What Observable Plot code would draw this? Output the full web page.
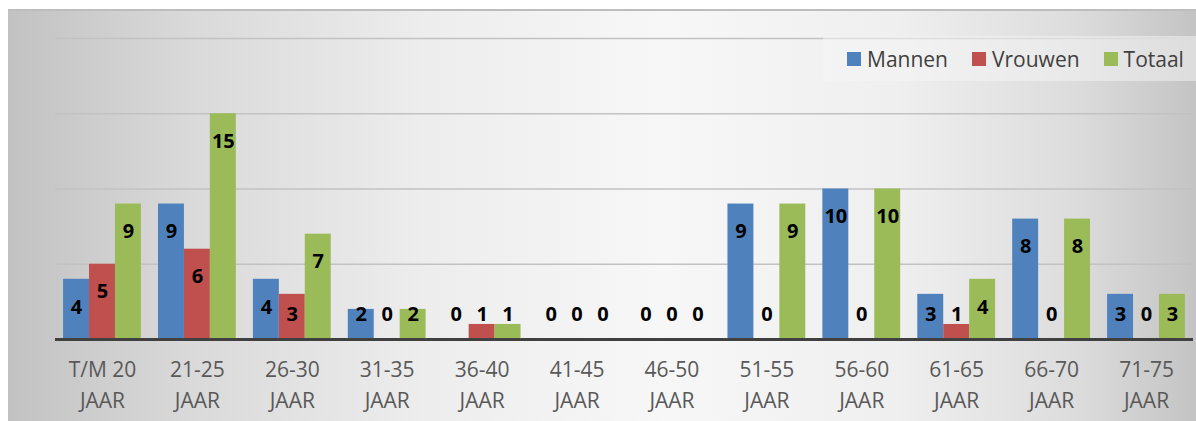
<!DOCTYPE html>
<html><head><meta charset="utf-8">
<script src="https://cdn.jsdelivr.net/npm/d3@7"></script>
<script src="https://cdn.jsdelivr.net/npm/@observablehq/plot@0.6"></script>
<style>
body{margin:0;background:#fff;}
#wrap{position:relative;width:1196px;height:421px;overflow:hidden;background:#fff;font-family:"Open Sans",sans-serif;}
#panel{position:absolute;left:8px;top:9px;right:0;bottom:0;border-top:2px solid #bdbdbd;
 background:linear-gradient(90deg,#c2c2c2 0%,#d9d9d9 15%,#ededed 35%,#f7f7f7 55%,#efefef 75%,#dcdcdc 90%,#c4c4c4 100%);}
#back,#chart{position:absolute;left:0;top:0;}
#legend{position:absolute;left:823px;top:36px;width:373px;height:45px;background:rgba(245,245,245,0.5);
 display:flex;align-items:center;padding-left:24px;box-sizing:border-box;font-size:21px;color:#404040;}
#legend .it{display:flex;align-items:center;margin-right:24px;}
#legend .sw{width:14px;height:14px;margin-right:6px;}
</style></head>
<body>
<div id="wrap"><div id="panel"></div><div id="back"></div><div id="chart"></div><div id="legend"></div></div>
<script>
const categories = ["T/M 20","21-25","26-30","31-35","36-40","41-45","46-50","51-55","56-60","61-65","66-70","71-75"];
const tickSuffix = "JAAR";
const series = ["Mannen","Vrouwen","Totaal"];
const colors = ["#4F81BD","#C0504D","#9BBB59"];
const mannen  = [4,9,4,2,0,0,0,9,10,3,8,3];
const vrouwen = [5,6,3,0,1,0,0,0,0,1,0,0];
const totaal  = [9,15,7,2,1,0,0,9,10,4,8,3];
const gridValues = [5,10,15,20];

const values = [mannen, vrouwen, totaal];
const rows = [];
categories.forEach((c, i) => series.forEach((s, j) => rows.push({cat: c, series: s, value: values[j][i]})));

const common = {
  width: 1196, height: 421,
  marginLeft: 55, marginRight: 3, marginTop: 38, marginBottom: 82,
  y: {domain: [0, 20], axis: null}
};

const back = Plot.plot({
  ...common,
  style: {background: "transparent"},
  marks: [
    Plot.ruleY(gridValues, {stroke: "#c2c2c2", strokeWidth: 1.5}),
    Plot.ruleY([0], {stroke: "#404040", strokeWidth: 3})
  ]
});
document.getElementById("back").appendChild(back);

const chart = Plot.plot({
  ...common,
  style: {background: "transparent", fontFamily: "Open Sans, sans-serif", fontSize: "21px", color: "#595959", overflow: "visible"},
  fx: {domain: categories, paddingInner: 0.18, paddingOuter: 0.085, round: false, axis: null, label: null},
  x: {domain: series, padding: 0, round: false, axis: null},
  color: {domain: series, range: colors},
  marks: [
    Plot.barY(rows, {fx: "cat", x: "series", y: "value", fill: "series"}),
    Plot.text(rows, {fx: "cat", x: "series", y: d => Math.max(d.value - 1.85, 1.65), text: d => String(d.value),
      fill: "#000", fontWeight: "bold", fontSize: 20}),
    Plot.ruleY([0], {stroke: "#404040", strokeWidth: 3}),
    Plot.axisFx({anchor: "bottom", tickSize: 0, tickPadding: 15, label: null, lineHeight: 1.5,
      tickFormat: d => d + "\n" + tickSuffix, fontSize: 21, fill: "#595959"})
  ]
});
document.getElementById("chart").appendChild(chart);

const lg = document.getElementById("legend");
series.forEach((s, i) => {
  const it = document.createElement("div"); it.className = "it";
  const sw = document.createElement("div"); sw.className = "sw"; sw.style.background = colors[i];
  const tx = document.createElement("span"); tx.textContent = s;
  it.appendChild(sw); it.appendChild(tx); lg.appendChild(it);
});
</script>
</body></html>
